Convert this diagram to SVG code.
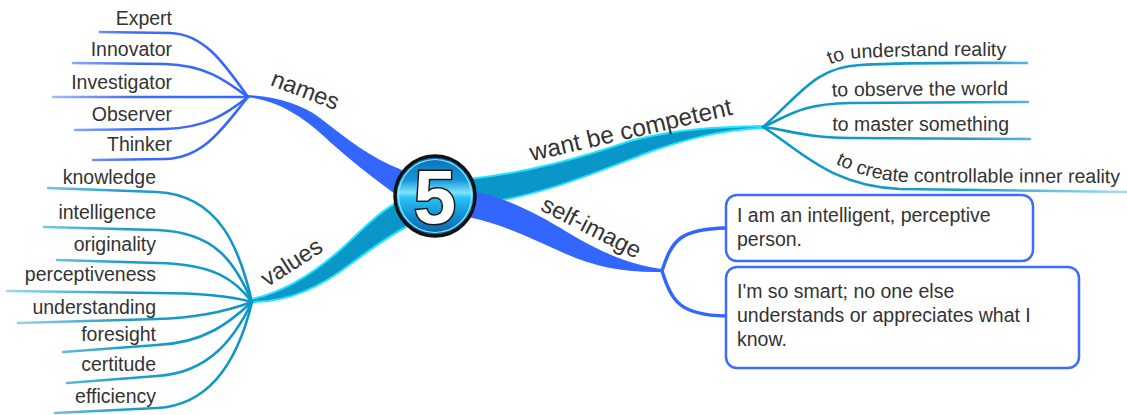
<svg xmlns="http://www.w3.org/2000/svg" width="1127" height="415" viewBox="0 0 1127 415">
<style>
  text { font-family: "Liberation Sans", Arial, sans-serif; fill: #333; }
  .leaf { font-size: 19.5px; }
  .main { font-size: 23.5px; }
  .blue-thin { fill: none; stroke: url(#gNames); stroke-width: 2.6; stroke-linecap: round; }
  .teal-thin { fill: none; stroke: url(#gValues); stroke-width: 2.6; stroke-linecap: round; }
  .comp-thin { fill: none; stroke: url(#gComp); stroke-width: 2.6; stroke-linecap: round; }
  .self-thin { fill: none; stroke: #3366ff; stroke-width: 3.5; stroke-linecap: round; }
  .blue-band { fill: #3366ff; }
  .teal-band { fill: #0a96c8; stroke: #22e4ff; stroke-width: 2; }
  .box { fill: #fff; stroke: #3d6cff; stroke-width: 2.5; }
</style>
<defs>
  <linearGradient id="gNames" gradientUnits="userSpaceOnUse" x1="40" y1="0" x2="250" y2="0">
    <stop offset="0" stop-color="#b5c8ff"/>
    <stop offset="0.45" stop-color="#3d6cf6"/>
    <stop offset="1" stop-color="#3366ff"/>
  </linearGradient>
  <linearGradient id="gValues" gradientUnits="userSpaceOnUse" x1="0" y1="0" x2="252" y2="0">
    <stop offset="0" stop-color="#a9dcef"/>
    <stop offset="0.5" stop-color="#1e9ccc"/>
    <stop offset="1" stop-color="#0a96c8"/>
  </linearGradient>
  <linearGradient id="gComp" gradientUnits="userSpaceOnUse" x1="763" y1="0" x2="1127" y2="0">
    <stop offset="0" stop-color="#0a96c8"/>
    <stop offset="0.55" stop-color="#1e9ccc"/>
    <stop offset="1" stop-color="#a9dcef"/>
  </linearGradient>
  <linearGradient id="gCircle" x1="0" y1="0" x2="0" y2="1">
    <stop offset="0" stop-color="#0d6fb3"/>
    <stop offset="0.3" stop-color="#1596d8"/>
    <stop offset="0.46" stop-color="#7fe3ff"/>
    <stop offset="0.52" stop-color="#2cc3f5"/>
    <stop offset="0.75" stop-color="#118fd2"/>
    <stop offset="1" stop-color="#0a5fa0"/>
  </linearGradient>
  <path id="tp1" d="M763,120 C800,88 815,60 860,58 C920,55 975,56 1006,56"/>
  <path id="tp2" d="M763,120 C790,108 800,97 850,96 L1008,95"/>
  <path id="tp3" d="M763,120 C790,123 800,130 850,131 L1009,131"/>
  <path id="tp4" d="M768,118 C805,141 835,178 905,182 L1120,183"/>
</defs>

<g id="connectors">
  <!-- main branches -->
  <path class="blue-band" d="M247,95 C275,97 300,103 320,118 C345,137 370,158 402,170 L395,194 C372,177 350,160 330,142 C305,118 280,101 247,97 Z"/>
  <path class="teal-band" d="M252,299 C285,292 315,272 340,250 C360,232 378,212 401,200 L408,226 C388,236 370,250 352,263 C322,286 290,302 252,302 Z"/>
  <path class="teal-band" d="M470,179 C530,172 580,158 630,141 C680,128 720,127 763,126 L763,128 C722,130 690,138 652,151 C602,170 542,196 478,204 Z"/>
  <path class="blue-band" d="M470,190 C510,199 537,214 567,232 C600,252 630,265 662,269 L662,272 C630,273 598,268 566,254 C532,239 503,224 468,217 Z"/>

  <!-- names children -->
  <path class="blue-thin" d="M248,97 C225,65 205,34 170,33 L100,32"/>
  <path class="blue-thin" d="M248,97 C225,80 205,65 165,64 L73,63"/>
  <path class="blue-thin" d="M248,97 L53,97"/>
  <path class="blue-thin" d="M248,97 C225,115 205,128 165,129 L75,130"/>
  <path class="blue-thin" d="M248,97 C225,125 205,158 165,159 L93,160"/>

  <!-- values children -->
  <path class="teal-thin" d="M252,302 C240,250 220,195 157,192 L48,188"/>
  <path class="teal-thin" d="M252,302 C235,262 215,232 157,230 L44,227"/>
  <path class="teal-thin" d="M252,302 C235,280 215,264 157,263 L57,260"/>
  <path class="teal-thin" d="M252,302 C230,296 200,293 157,293 L7,291"/>
  <path class="teal-thin" d="M252,302 C230,310 200,318 157,319 L18,323"/>
  <path class="teal-thin" d="M252,302 C230,322 205,343 157,345 L63,352"/>
  <path class="teal-thin" d="M252,302 C235,337 210,373 157,376 L67,383"/>
  <path class="teal-thin" d="M252,302 C240,352 215,405 157,408 L55,413"/>

  <!-- want be competent children -->
  <path class="comp-thin" d="M763,127 C800,95 815,67 860,65 C920,62 980,63 1027,63"/>
  <path class="comp-thin" d="M763,127 C790,115 800,104 850,103 L1028,102"/>
  <path class="comp-thin" d="M763,127 C790,130 800,137 850,138 L1030,139"/>
  <path class="comp-thin" d="M763,127 C800,150 830,186 900,189 L1127,192"/>

  <!-- self-image children -->
  <path class="self-thin" d="M662,271 C672,240 680,229 726,228"/>
  <path class="self-thin" d="M662,271 C672,302 680,315 726,316"/>
</g>

<g id="center">
  <circle cx="435" cy="196" r="40" fill="url(#gCircle)" stroke="#111" stroke-width="3.5"/>
  <circle cx="435" cy="196" r="36.5" fill="none" stroke="#8fe9ff" stroke-width="1.2"/>
  <text x="435" y="223" text-anchor="middle" style="font-size:76px;font-weight:bold;fill:#fff;stroke:#1a1a1a;stroke-width:3;paint-order:stroke">5</text>
</g>

<g id="names">
  <text class="main" transform="translate(305,91) rotate(21)" text-anchor="middle" y="7">names</text>
</g>
<g id="names-leaves">
  <text class="leaf" x="172" y="25" text-anchor="end">Expert</text>
  <text class="leaf" x="172" y="56" text-anchor="end">Innovator</text>
  <text class="leaf" x="172" y="89" text-anchor="end">Investigator</text>
  <text class="leaf" x="172" y="121" text-anchor="end">Observer</text>
  <text class="leaf" x="172" y="151" text-anchor="end">Thinker</text>
</g>

<g id="values">
  <text class="main" transform="translate(292,263) rotate(-33)" text-anchor="middle" y="7">values</text>
</g>
<g id="values-leaves">
  <text class="leaf" x="156" y="184" text-anchor="end">knowledge</text>
  <text class="leaf" x="156" y="219" text-anchor="end">intelligence</text>
  <text class="leaf" x="156" y="251" text-anchor="end">originality</text>
  <text class="leaf" x="156" y="281" text-anchor="end">perceptiveness</text>
  <text class="leaf" x="156" y="314" text-anchor="end">understanding</text>
  <text class="leaf" x="156" y="341" text-anchor="end">foresight</text>
  <text class="leaf" x="156" y="371" text-anchor="end">certitude</text>
  <text class="leaf" x="156" y="403" text-anchor="end">efficiency</text>
</g>

<g id="competent">
  <text class="main" transform="translate(631,131) rotate(-13)" text-anchor="middle" y="7" style="font-size:24.5px">want be competent</text>
</g>
<g id="competent-leaves">
  <text class="leaf" text-anchor="end"><textPath href="#tp1" startOffset="100%">to understand reality</textPath></text>
  <text class="leaf" text-anchor="end"><textPath href="#tp2" startOffset="100%">to observe the world</textPath></text>
  <text class="leaf" text-anchor="end"><textPath href="#tp3" startOffset="100%">to master something</textPath></text>
  <text class="leaf" text-anchor="end"><textPath href="#tp4" startOffset="100%">to create controllable inner reality</textPath></text>
</g>

<g id="self-image">
  <text class="main" transform="translate(591,228) rotate(27)" text-anchor="middle" y="7">self-image</text>
</g>
<g id="box1">
  <rect class="box" x="726" y="195" width="307" height="66" rx="11"/>
  <text class="leaf" x="737" y="222">I am an intelligent, perceptive</text>
  <text class="leaf" x="737" y="246">person.</text>
</g>
<g id="box2">
  <rect class="box" x="726" y="267" width="353" height="101" rx="11"/>
  <text class="leaf" x="737" y="298">I'm so smart; no one else</text>
  <text class="leaf" x="737" y="322">understands or appreciates what I</text>
  <text class="leaf" x="737" y="346">know.</text>
</g>
</svg>
